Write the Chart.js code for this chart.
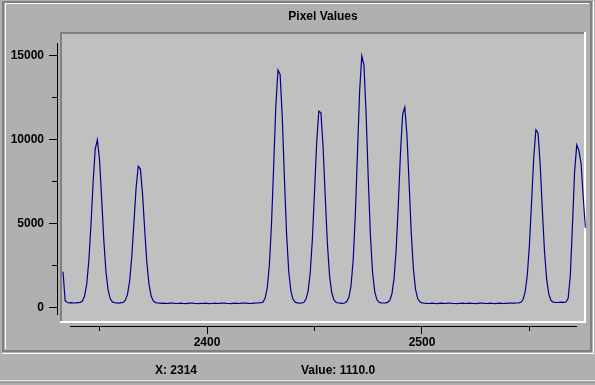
<!DOCTYPE html>
<html>
<head>
<meta charset="utf-8">
<title>Pixel Values</title>
<script src="https://cdn.jsdelivr.net/npm/chart.js@4.4.1/dist/chart.umd.min.js"></script>
<style>
  html, body { margin: 0; padding: 0; background: #b0b0b0; }
  canvas { display: block; }
</style>
</head>
<body>
<canvas id="pixelChart" width="595" height="385"></canvas>
<script>
// Values: one value per pixel index, starting at xStart
const xStart = 2333;
const pixelValues = [
  2140, 420, 310, 290, 300, 280, 290, 300, 310, 393,
  676, 1373, 2759, 4926, 7453, 9454, 9991, 8790, 6448, 3979,
  2115, 1027, 528, 342, 300, 290, 270, 300, 320, 442,
  795, 1593, 3040, 5067, 7142, 8416, 8264, 6762, 4637, 2701,
  1386, 697, 405, 306, 280, 270, 260, 270, 250, 260,
  270, 280, 260, 250, 260, 270, 250, 240, 260, 270,
  280, 260, 250, 240, 260, 250, 270, 260, 240, 250,
  260, 270, 250, 260, 270, 280, 260, 250, 240, 260,
  270, 260, 250, 270, 280, 270, 260, 250, 260, 270,
  280, 290, 300, 330, 563, 1165, 2524, 4990, 8442, 11979,
  14149, 13889, 11331, 7710, 4412, 2172, 997, 500, 331, 290,
  270, 280, 310, 498, 974, 2064, 4056, 6876, 9823, 11699,
  11594, 9555, 6573, 3812, 1913, 904, 472, 324, 280, 270,
  260, 280, 366, 619, 1313, 2852, 5568, 9270, 12914, 14984,
  14442, 11563, 7720, 4336, 2110, 959, 484, 325, 290, 280,
  290, 314, 439, 816, 1728, 3492, 6174, 9219, 11501, 11930,
  10290, 7402, 4468, 2316, 1097, 546, 346, 290, 270, 260,
  250, 260, 270, 250, 240, 260, 270, 260, 250, 270,
  280, 260, 250, 240, 250, 260, 270, 250, 260, 270,
  260, 250, 240, 260, 270, 280, 260, 250, 260, 270,
  250, 240, 260, 270, 260, 250, 260, 270, 280, 270,
  270, 280, 290, 320, 488, 935, 1945, 3777, 6343, 8971,
  10583, 10390, 8489, 5798, 3348, 1683, 810, 441, 330, 320,
  310, 320, 330, 320, 340, 560, 1900, 4900, 8100, 9690,
  9350, 8600, 6600, 4760
];

// Axis ticks
const xTickLabels = [2400, 2500];
const xMinorTicks = [2350, 2450, 2550];
const yTickLabels = [0, 5000, 10000, 15000];
const yMinorTicks = [2500, 7500, 12500];
const xRange = [2331.6, 2576.3];
const yRange = [-910, 16410];

// Status bar texts
const statusX = 'X: 2314';
const statusValue = 'Value: 1110.0';

const points = pixelValues.map((v, i) => ({ x: xStart + i, y: v }));

Chart.defaults.font.family = '"Liberation Sans", Arial, sans-serif';
Chart.defaults.color = '#000';

// Panel, plot box, axis lines, tick marks and status bar
const frame = {
  id: 'frame',
  beforeDraw(chart) {
    const ctx = chart.ctx;
    const a = chart.chartArea;
    const w = a.right - a.left;
    const h = a.bottom - a.top;
    ctx.save();
    ctx.fillStyle = '#b0b0b0';
    ctx.fillRect(0, 0, chart.width, chart.height);

    // etched border of the panel
    ctx.fillStyle = '#808080';
    ctx.fillRect(2, 1, 590, 2);
    ctx.fillRect(2, 1, 2, 351);
    ctx.fillRect(590, 1, 2, 351);
    ctx.fillRect(2, 350, 590, 2);
    ctx.fillStyle = '#ffffff';
    ctx.fillRect(5, 3, 584, 1);
    ctx.fillRect(5, 3, 1, 346);
    ctx.fillRect(593, 1, 1, 353);
    ctx.fillRect(2, 353, 592, 1);

    // plot box
    ctx.fillStyle = '#c0c0c0';
    ctx.fillRect(a.left, a.top, w, h);
    ctx.fillStyle = '#808080';
    ctx.fillRect(a.left, a.top, w, 2);
    ctx.fillRect(a.left, a.top, 2, h);
    ctx.fillStyle = '#ffffff';
    ctx.fillRect(a.left, a.bottom - 2, w, 2);
    ctx.fillRect(a.right - 2, a.top, 2, h);

    // status bar line
    ctx.fillStyle = '#e4e4e4';
    ctx.fillRect(0, 380, chart.width, 1);
    ctx.fillStyle = '#8c8c8c';
    ctx.fillRect(0, 382, chart.width, 1);
    ctx.restore();
  },
  afterDraw(chart) {
    const ctx = chart.ctx;
    const a = chart.chartArea;
    const xs = chart.scales.x;
    const ys = chart.scales.y;
    ctx.save();
    ctx.fillStyle = '#000';

    // y axis
    const yAxisX = a.left - 3;
    ctx.fillRect(yAxisX, a.top + 11, 1, a.bottom - a.top - 19);
    yTickLabels.forEach(v => {
      ctx.fillRect(yAxisX - 8, Math.floor(ys.getPixelForValue(v)), 8, 1);
    });
    yMinorTicks.forEach(v => {
      ctx.fillRect(yAxisX - 5, Math.floor(ys.getPixelForValue(v)), 5, 1);
    });

    // x axis
    const xAxisY = a.bottom + 3;
    ctx.fillRect(a.left + 10, xAxisY, a.right - a.left - 19, 1);
    xTickLabels.forEach(v => {
      ctx.fillRect(Math.floor(xs.getPixelForValue(v)), xAxisY, 1, 8);
    });
    xMinorTicks.forEach(v => {
      ctx.fillRect(Math.floor(xs.getPixelForValue(v)), xAxisY, 1, 5);
    });

    // status texts
    ctx.font = 'bold 12px "Liberation Sans", Arial, sans-serif';
    ctx.textBaseline = 'alphabetic';
    ctx.textAlign = 'left';
    ctx.fillText(statusX, 155, 374);
    ctx.fillText(statusValue, 301, 374);
    ctx.restore();
  }
};

const ctx = document.getElementById('pixelChart').getContext('2d');
const pixelChart = new Chart(ctx, {
  type: 'line',
  data: {
    datasets: [{
      label: 'Pixel Values',
      data: points,
      borderColor: '#00008b',
      borderWidth: 1.2,
      pointRadius: 0,
      tension: 0,
      fill: false
    }]
  },
  options: {
    responsive: false,
    animation: false,
    layout: { padding: { left: 0, right: 9, top: 0, bottom: 0 } },
    plugins: {
      legend: { display: false },
      tooltip: { enabled: false },
      title: {
        display: true,
        text: 'Pixel Values',
        fullSize: false,
        color: '#000',
        font: { size: 12, weight: 'bold', lineHeight: 1.2 },
        padding: { top: 9, bottom: 8.6 }
      }
    },
    scales: {
      x: {
        type: 'linear',
        min: xRange[0],
        max: xRange[1],
        grid: { display: false, drawTicks: false },
        border: { display: false },
        afterBuildTicks: s => { s.ticks = xTickLabels.map(v => ({ value: v })); },
        afterFit: s => { s.height = 62; },
        ticks: {
          padding: 12,
          maxRotation: 0,
          autoSkip: false,
          font: { size: 12, weight: 'bold' },
          callback: v => String(v)
        }
      },
      y: {
        type: 'linear',
        min: yRange[0],
        max: yRange[1],
        grid: { display: false, drawTicks: false },
        border: { display: false },
        afterBuildTicks: s => { s.ticks = yTickLabels.map(v => ({ value: v })); },
        afterFit: s => { s.width = 60; },
        ticks: {
          padding: 16,
          font: { size: 12, weight: 'bold' },
          callback: v => String(v)
        }
      }
    }
  },
  plugins: [frame]
});
</script>
</body>
</html>
